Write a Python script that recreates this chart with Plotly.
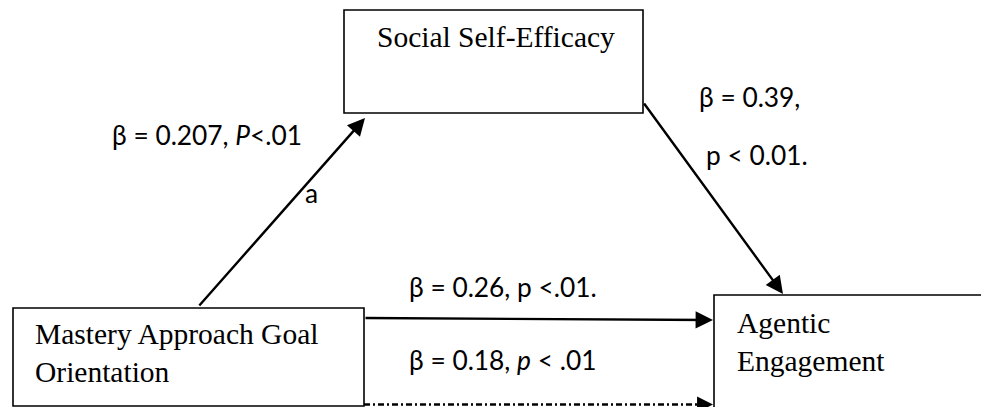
import plotly.graph_objects as go

# ---- diagram content ----
box_labels = ["Social Self-Efficacy", "Mastery Approach Goal<br>Orientation", "Agentic<br>Engagement"]
path_labels = ["β = 0.207, <i>P</i><.01", "β = 0.39,", "p < 0.01.", "β = 0.26, p <.01.", "β = 0.18, <i>p</i> < .01", "a"]

W, H = 989, 407
OFF = 8  # page body margin compensation
SERIF = "Liberation Serif, Times New Roman, serif"
SANS = "Lato, Calibri, sans-serif"

fig = go.Figure()

# boxes (x0, y0, x1, y1) in pixel-like data coords (y downward)
boxes = [(344, 10, 643, 113), (13, 308, 364, 406), (714, 295, 1010, 430)]
for (x0, y0, x1, y1) in boxes:
    fig.add_shape(type="rect", x0=x0, y0=y0, x1=x1, y1=y1,
                  line=dict(color="black", width=1.6), fillcolor="rgba(0,0,0,0)", layer="above")

# box texts
box_text_pos = [(375, 37), (33, 353), (735, 342)]
for lab, (x, y) in zip(box_labels, box_text_pos):
    fig.add_annotation(x=x, y=y, text=lab, showarrow=False, xanchor="left", yanchor="middle",
                       align="left", font=dict(family=SERIF, size=29.5, color="black"))

# solid arrows: (tail_x, tail_y, head_x, head_y)
arrows = [(198, 307, 365, 118), (643, 102, 783, 294), (364, 318, 713, 320)]
for (tx, ty, hx, hy) in arrows:
    fig.add_annotation(x=hx, y=hy, ax=tx, ay=ty, xref="x", yref="y", axref="x", ayref="y",
                       text="", showarrow=True, arrowhead=2, arrowsize=1.45, arrowwidth=2.4,
                       arrowcolor="black")

# dashed arrow
fig.add_shape(type="line", x0=364, y0=404.5, x1=704, y1=404.5,
              line=dict(color="black", width=2.4, dash="6px,3px,2px,3px"))
fig.add_annotation(x=713, y=404.5, ax=700, ay=404.5, xref="x", yref="y", axref="x", ayref="y",
                   text="", showarrow=True, arrowhead=2, arrowsize=1.45, arrowwidth=2.2,
                   arrowcolor="black")

# path labels
label_pos = [(110, 135), (697, 97), (704, 155), (407, 287), (407, 360), (303, 193)]
for lab, (x, y) in zip(path_labels, label_pos):
    fig.add_annotation(x=x, y=y, text=lab, showarrow=False, xanchor="left", yanchor="middle",
                       font=dict(family=SANS, size=26.3, color="black"))

fig.update_layout(
    width=W, height=H, margin=dict(l=0, r=0, t=0, b=0),
    paper_bgcolor="white", plot_bgcolor="white", showlegend=False,
    xaxis=dict(range=[OFF, W + OFF], visible=False, fixedrange=True),
    yaxis=dict(range=[H + OFF, OFF], visible=False, fixedrange=True),
)
fig.write_html("out.html")
